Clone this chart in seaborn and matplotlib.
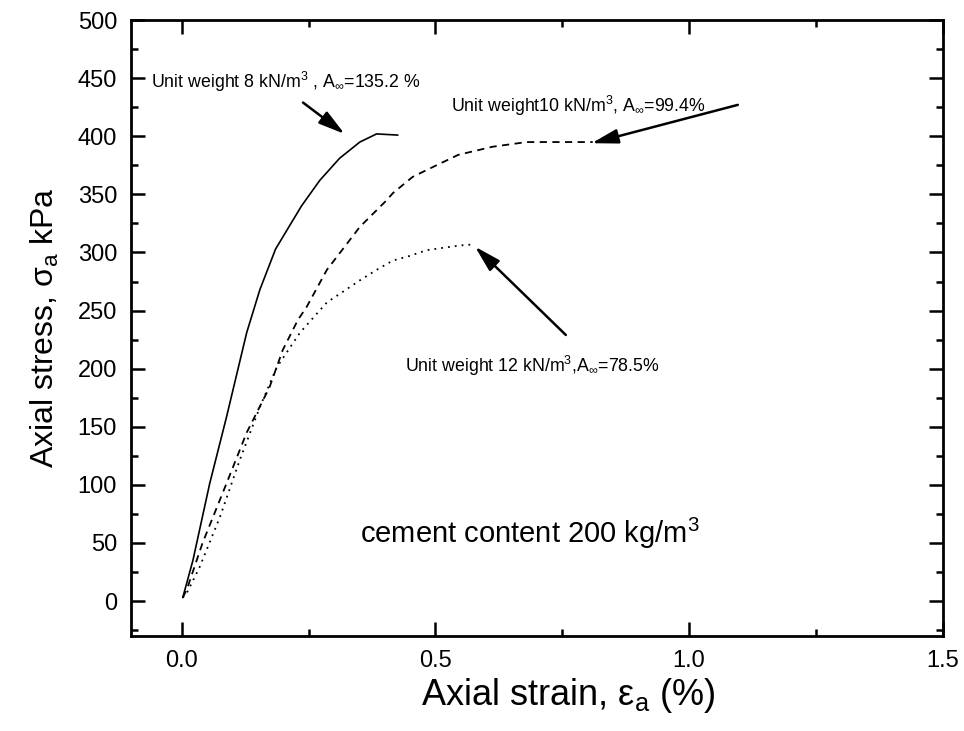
import numpy as np
import pandas as pd
import matplotlib
matplotlib.use("Agg")
import matplotlib.pyplot as plt
import seaborn as sns
from matplotlib.ticker import MultipleLocator, FormatStrFormatter

# ---- data ----
strain_8 = [0.002, 0.022, 0.055, 0.088, 0.128, 0.154, 0.185, 0.236, 0.272, 0.311, 0.351, 0.384, 0.426]
stress_8 = [3, 35, 101, 158, 231, 268, 303, 340, 362, 381, 395, 402, 401]

strain_10 = [0.002, 0.010, 0.041, 0.088, 0.128, 0.173, 0.199, 0.229, 0.246, 0.286, 0.351, 0.404,
             0.416, 0.455, 0.483, 0.545, 0.613, 0.680, 0.81]
stress_10 = [3, 10, 50, 101, 145, 184, 216, 242, 253, 285, 322, 345,
             351, 365, 371, 384, 391, 395, 395]

strain_12 = [0.002, 0.010, 0.035, 0.075, 0.114, 0.154, 0.187, 0.233, 0.286, 0.317, 0.351, 0.384,
             0.416, 0.449, 0.483, 0.515, 0.548, 0.578]
stress_12 = [3, 7, 29, 72, 121, 167, 201, 231, 257, 266, 276, 285,
             293, 297, 302, 304, 306, 307]

labels = ["Unit weight 8 kN/m$^3$ , A$_\\infty$=135.2 %",
          "Unit weight10 kN/m$^3$, A$_\\infty$=99.4%",
          "Unit weight 12 kN/m$^3$,A$_\\infty$=78.5%"]
note = "cement content 200 kg/m$^3$"

sns.set_style("ticks")
plt.rcParams['font.family'] = ['Liberation Sans', 'DejaVu Sans']
plt.rcParams['mathtext.fontset'] = 'custom'
plt.rcParams['mathtext.rm'] = 'Liberation Sans'
plt.rcParams['mathtext.it'] = 'Liberation Sans:italic'
plt.rcParams['mathtext.bf'] = 'Liberation Sans:bold'
for k in ['text.color', 'axes.labelcolor', 'xtick.color', 'ytick.color', 'axes.edgecolor']:
    plt.rcParams[k] = 'black'

fig = plt.figure(figsize=(9.64, 7.31), dpi=100)
ax = fig.add_axes([0.1359, 0.130, 0.8421, 0.8426])

sns.lineplot(x=strain_8, y=stress_8, ax=ax, color="black", lw=1.2, linestyle="-", sort=False)
sns.lineplot(x=strain_10, y=stress_10, ax=ax, color="black", lw=1.3, linestyle=(0, (4.0, 3.0)), sort=False)
sns.lineplot(x=strain_12, y=stress_12, ax=ax, color="black", lw=1.3, linestyle=(0, (1, 2.8)), sort=False)

ax.set_xlim(-0.1, 1.5)
ax.set_ylim(-30, 500)
ax.xaxis.set_major_locator(MultipleLocator(0.5))
ax.xaxis.set_minor_locator(MultipleLocator(0.25))
ax.yaxis.set_major_locator(MultipleLocator(50))
ax.yaxis.set_minor_locator(MultipleLocator(25))
ax.xaxis.set_major_formatter(FormatStrFormatter('%.1f'))
ax.tick_params(which='both', direction='in', top=True, right=True, width=1.8, labelsize=17)
ax.tick_params(which='major', length=10, pad=10)
ax.tick_params(which='minor', length=5)
for s in ax.spines.values():
    s.set_linewidth(2)
    s.set_color("black")

ax.set_xlabel("Axial strain, ε$_\\mathrm{a}$ (%)", fontsize=26, va="center")
ax.xaxis.set_label_coords(0.538, -0.096)
ax.set_ylabel("Axial stress, σ$_\\mathrm{a}$ kPa", fontsize=23, labelpad=12)

arrowprops = dict(arrowstyle="-|>,head_length=0.8,head_width=0.22", color="black", lw=1.8,
                  mutation_scale=20, shrinkA=0, shrinkB=0)
fs = 12.8
ax.text(-0.06, 447, labels[0], fontsize=fs, va="center", ha="left")
ax.annotate("", xy=(0.321, 402), xytext=(0.239, 429), arrowprops=arrowprops)
ax.text(0.53, 426, labels[1], fontsize=fs, va="center", ha="left")
ax.annotate("", xy=(0.808, 394), xytext=(1.096, 427), arrowprops=arrowprops)
ax.text(0.44, 202, labels[2], fontsize=fs, va="center", ha="left")
ax.annotate("", xy=(0.578, 305), xytext=(0.757, 229), arrowprops=arrowprops)
ax.text(0.686, 58, note, fontsize=21, va="center", ha="center")

fig.savefig("out.png", dpi=100)
